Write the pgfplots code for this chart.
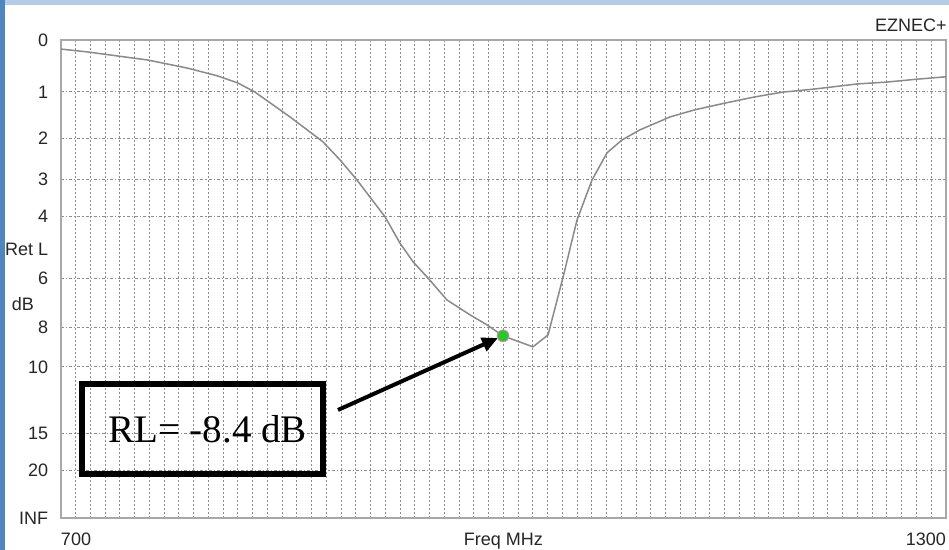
\documentclass[border=0pt]{standalone}
\usepackage{pgfplots}
\pgfplotsset{compat=1.18}
\usepackage{fontspec}
\setmainfont{Liberation Sans}
\newfontfamily\timesfont{Liberation Serif}
\usetikzlibrary{arrows.meta}

\definecolor{curvegray}{HTML}{8A8A8A}
\definecolor{gridgray}{HTML}{8C8C8C}
\definecolor{framegray}{HTML}{A8A8A8}
\definecolor{slideblue}{HTML}{4F86C0}
\definecolor{slidetop}{HTML}{B4CCE6}
\definecolor{dotgreen}{RGB}{40,200,40}

% return loss curve, y = |rho| (the EZNEC scale is linear in it)
\pgfplotstableread{
f      rho
700    0.981
718    0.975
759    0.958
786    0.941
806    0.925
820    0.910
831.5  0.891
855.3  0.839
877.6  0.787
889.2  0.749
900.7  0.707
919.7  0.630
929.8  0.575
938.7  0.536
948.8  0.502
961.7  0.456
977.3  0.425
988.8  0.404
999.7  0.381
1020   0.358
1030.2 0.383
1040.4 0.504
1049.8 0.623
1060   0.707
1070.2 0.764
1080.4 0.791
1092.5 0.812
1112.9 0.839
1129.8 0.854
1150.2 0.868
1170.5 0.881
1189.5 0.891
1209.8 0.897
1239.7 0.908
1260   0.912
1280.3 0.918
1300   0.923
}\rlcurve

\begin{document}
\begin{tikzpicture}
\path[use as bounding box] (-30.5pt,-16pt) rectangle (444pt,259pt);
\fill[slideblue] (-30.5pt,-16pt) rectangle (444pt,259pt);
\fill[slidetop] (-28pt,256.5pt) rectangle (444pt,259pt);
\fill[white] (-28pt,-16pt) rectangle (444pt,256.5pt);
\clip (-30.5pt,-16pt) rectangle (444pt,259pt);
\begin{axis}[
    scale only axis,
    width=442.5pt, height=239pt,
    xmin=700, xmax=1300, ymin=0, ymax=1,
    clip=false,
    axis line style={framegray, line width=1pt},
    xtick={700,1300},
    xticklabels={\makebox[0pt][l]{700}, \makebox[0pt][r]{1300}},
    minor x tick num=59,
    xminorgrids,
    ytick={0,0.1,0.1778,0.3162,0.3981,0.5012,0.6310,0.7079,0.7943,0.8913,1},
    yticklabels={INF,20,15,10,8,6,4,3,2,1,0},
    ymajorgrids,
    major tick length=0pt, minor tick length=0pt,
    minor grid style={gridgray, line width=0.5pt, dash pattern=on 0.8pt off 1.2pt},
    major grid style={gridgray, line width=0.5pt, dash pattern=on 1.5pt off 1pt on 0.6pt off 1pt},
    tick label style={font=\fontsize{9}{10}\selectfont, black!85, inner sep=0pt},
    yticklabel style={anchor=east, xshift=-6.25pt},
    xticklabel style={anchor=north, yshift=-7.5pt},
]
\addplot[curvegray, line width=0.75pt] table[x=f, y=rho] {\rlcurve};
\addplot[only marks, mark=*, mark size=3pt,
    mark options={fill=dotgreen, draw=magenta!50, line width=0.4pt}]
    coordinates {(999.7,0.381)};

\node[anchor=east, inner sep=0pt, font=\fontsize{9}{10}\selectfont, black!85]
    at ([xshift=-6.25pt]axis cs:700,0.5623) {Ret L};
\node[inner sep=0pt, font=\fontsize{9}{10}\selectfont, black!85]
    at ([xshift=-19pt]axis cs:700,0.4467) {dB};
\node[anchor=north, inner sep=0pt, font=\fontsize{9}{10}\selectfont, black!85]
    at ([yshift=-7.5pt]axis cs:1000,0) {Freq MHz};
\node[anchor=east, inner sep=0pt, font=\fontsize{9}{10}\selectfont, black!85]
    at ([xshift=443pt, yshift=7.5pt]rel axis cs:0,1) {EZNEC+};

\draw[line width=3pt] (axis cs:714.2,0.2803) rectangle (axis cs:877.6,0.0921);
\node[anchor=base west, inner sep=0pt, font=\timesfont\fontsize{19.5}{22}\selectfont]
    at (axis cs:731.9,0.157) {RL= -8.4 dB};
\draw[line width=2pt, -{Triangle[length=8pt,width=7pt]}]
    (axis cs:887.8,0.226) -- (axis cs:996.3,0.3766);
\end{axis}
\end{tikzpicture}
\end{document}
